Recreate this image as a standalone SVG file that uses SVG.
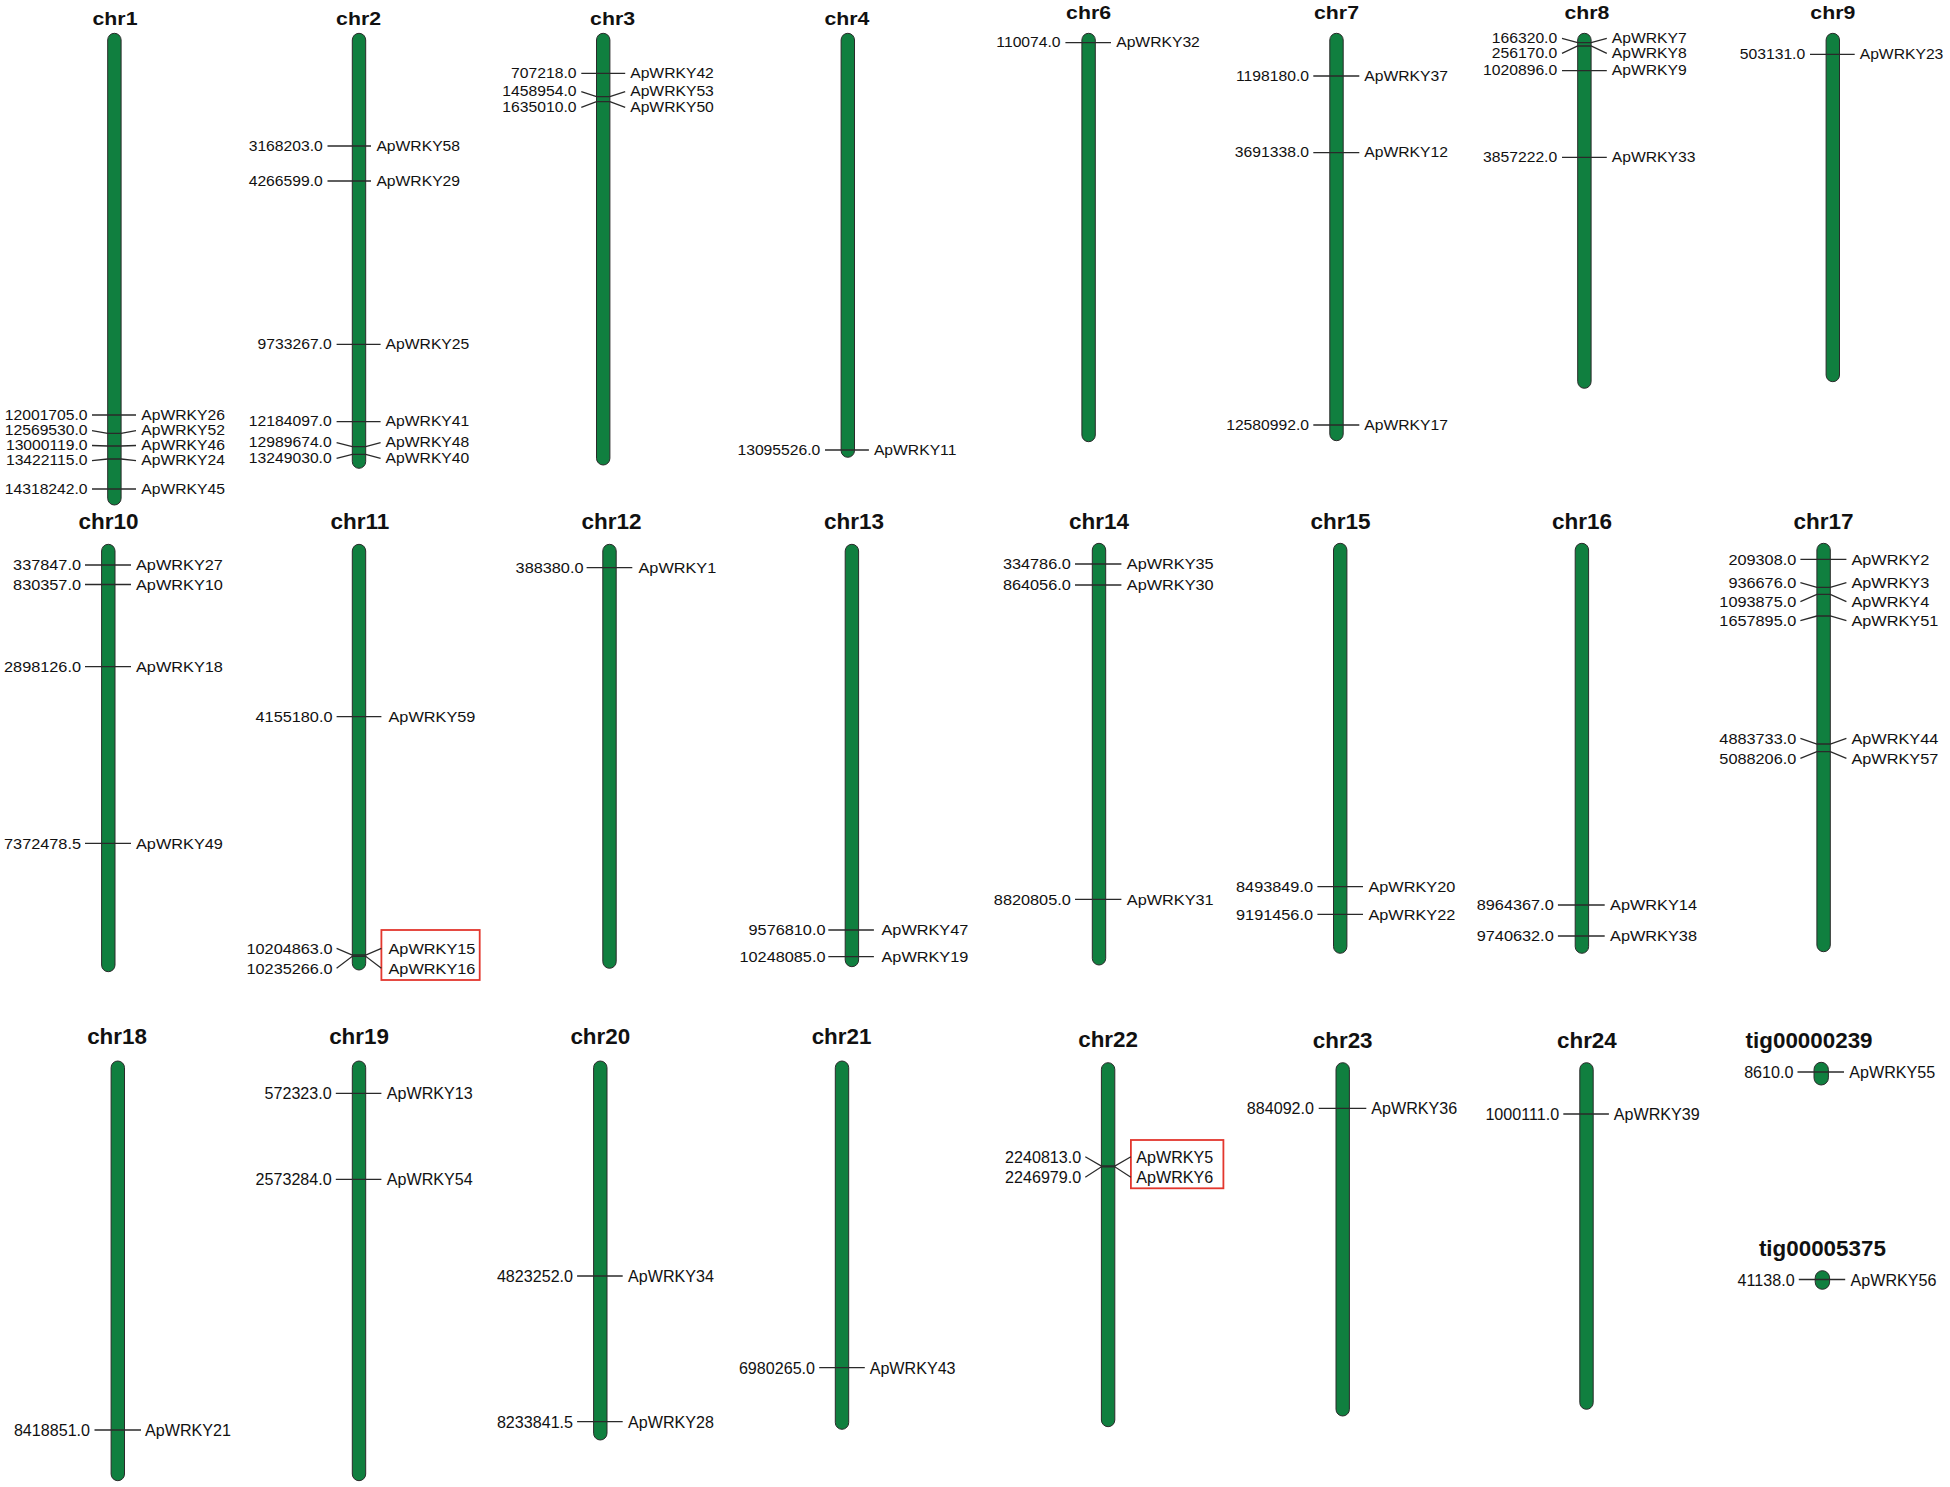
<svg xmlns="http://www.w3.org/2000/svg" width="1950" height="1487" viewBox="0 0 1950 1487">
<style>
text{font-family:"Liberation Sans",Arial,sans-serif;fill:#111;dominant-baseline:central;transform-box:fill-box;transform-origin:center}
.n{text-anchor:end}
.r1{font-size:15.7px;transform:scaleY(0.88)}
.r2{font-size:16.3px;transform:scaleY(0.95)}
.r3{font-size:16.1px}
.h1{font-size:21.3px;font-weight:bold;text-anchor:middle;transform:scaleY(0.9)}
.h2{font-size:22.5px;font-weight:bold;text-anchor:middle;transform:scaleY(0.95)}
.h3{font-size:22.4px;font-weight:bold;text-anchor:middle}
.bar{fill:#107f3f;stroke:#2a2a2a;stroke-width:1}
.c{fill:none;stroke:#2a2a2a;stroke-width:1.3}
.box{fill:none;stroke:#e3372e;stroke-width:1.8}
</style>
<rect width="1950" height="1487" fill="#fff"/>

<g id="chr1">
<text class="h1" x="115" y="18.3">chr1</text>
<rect class="bar" x="107.7" y="33.3" width="13.4" height="471.7" rx="6.7"/>
<text class="r1 n" x="87.6" y="415">12001705.0</text><text class="r1" x="141.3" y="415">ApWRKY26</text>
<text class="r1 n" x="87.6" y="430.7">12569530.0</text><text class="r1" x="141.3" y="430.7">ApWRKY52</text>
<text class="r1 n" x="87.6" y="445.5">13000119.0</text><text class="r1" x="141.3" y="445.5">ApWRKY46</text>
<text class="r1 n" x="87.6" y="460.7">13422115.0</text><text class="r1" x="141.3" y="460.7">ApWRKY24</text>
<text class="r1 n" x="87.6" y="489">14318242.0</text><text class="r1" x="141.3" y="489">ApWRKY45</text>
</g>
<g id="chr2">
<text class="h1" x="358.6" y="18.3">chr2</text>
<rect class="bar" x="352.3" y="33.3" width="13.4" height="435" rx="6.7"/>
<text class="r1 n" x="322.8" y="146">3168203.0</text><text class="r1" x="376.4" y="146">ApWRKY58</text>
<text class="r1 n" x="322.8" y="181">4266599.0</text><text class="r1" x="376.4" y="181">ApWRKY29</text>
<text class="r1 n" x="331.7" y="344.3">9733267.0</text><text class="r1" x="385.6" y="344.3">ApWRKY25</text>
<text class="r1 n" x="331.7" y="421.7">12184097.0</text><text class="r1" x="385.6" y="421.7">ApWRKY41</text>
<text class="r1 n" x="331.7" y="442.7">12989674.0</text><text class="r1" x="385.6" y="442.7">ApWRKY48</text>
<text class="r1 n" x="331.7" y="458.3">13249030.0</text><text class="r1" x="385.6" y="458.3">ApWRKY40</text>
</g>
<g id="chr3">
<text class="h1" x="612.6" y="18.3">chr3</text>
<rect class="bar" x="596.5" y="33.3" width="13.4" height="431.7" rx="6.7"/>
<text class="r1 n" x="576.5" y="73.3">707218.0</text><text class="r1" x="630.2" y="73.3">ApWRKY42</text>
<text class="r1 n" x="576.5" y="91.7">1458954.0</text><text class="r1" x="630.2" y="91.7">ApWRKY53</text>
<text class="r1 n" x="576.5" y="107.3">1635010.0</text><text class="r1" x="630.2" y="107.3">ApWRKY50</text>
</g>
<g id="chr4">
<text class="h1" x="846.9" y="18.3">chr4</text>
<rect class="bar" x="841.1" y="33.3" width="13.4" height="424" rx="6.7"/>
<text class="r1 n" x="820.3" y="450">13095526.0</text><text class="r1" x="873.9" y="450">ApWRKY11</text>
</g>
<g id="chr6">
<text class="h1" x="1088.6" y="12.7">chr6</text>
<rect class="bar" x="1081.9" y="33.3" width="13.4" height="408.4" rx="6.7"/>
<text class="r1 n" x="1060.6" y="42.7">110074.0</text><text class="r1" x="1116.2" y="42.7">ApWRKY32</text>
</g>
<g id="chr7">
<text class="h1" x="1336.5" y="12.7">chr7</text>
<rect class="bar" x="1329.8" y="33.3" width="13.4" height="407.4" rx="6.7"/>
<text class="r1 n" x="1309" y="76">1198180.0</text><text class="r1" x="1364.3" y="76">ApWRKY37</text>
<text class="r1 n" x="1309" y="152.7">3691338.0</text><text class="r1" x="1364.3" y="152.7">ApWRKY12</text>
<text class="r1 n" x="1309" y="425">12580992.0</text><text class="r1" x="1364.3" y="425">ApWRKY17</text>
</g>
<g id="chr8">
<text class="h1" x="1586.9" y="12.7">chr8</text>
<rect class="bar" x="1577.7" y="33.3" width="13.4" height="355" rx="6.7"/>
<text class="r1 n" x="1557.2" y="38.3">166320.0</text><text class="r1" x="1611.8" y="38.3">ApWRKY7</text>
<text class="r1 n" x="1557.2" y="53.3">256170.0</text><text class="r1" x="1611.8" y="53.3">ApWRKY8</text>
<text class="r1 n" x="1557.2" y="70.7">1020896.0</text><text class="r1" x="1611.8" y="70.7">ApWRKY9</text>
<text class="r1 n" x="1557.2" y="157.3">3857222.0</text><text class="r1" x="1611.8" y="157.3">ApWRKY33</text>
</g>
<g id="chr9">
<text class="h1" x="1832.8" y="12.7">chr9</text>
<rect class="bar" x="1826.1" y="33.3" width="13.4" height="348.4" rx="6.7"/>
<text class="r1 n" x="1805.2" y="54.3">503131.0</text><text class="r1" x="1859.7" y="54.3">ApWRKY23</text>
</g>

<g id="chr10">
<text class="h2" x="108.6" y="521.7">chr10</text>
<rect class="bar" x="101.6" y="544.3" width="13.4" height="427.4" rx="6.7"/>
<text class="r2 n" x="81" y="565">337847.0</text><text class="r2" x="136" y="565">ApWRKY27</text>
<text class="r2 n" x="81" y="584.5">830357.0</text><text class="r2" x="136" y="584.5">ApWRKY10</text>
<text class="r2 n" x="81" y="666.7">2898126.0</text><text class="r2" x="136" y="666.7">ApWRKY18</text>
<text class="r2 n" x="81" y="843.3">7372478.5</text><text class="r2" x="136" y="843.3">ApWRKY49</text>
</g>
<g id="chr11">
<text class="h2" x="359.9" y="521.7">chr11</text>
<rect class="bar" x="352.3" y="544.3" width="13.4" height="425.7" rx="6.7"/>
<text class="r2 n" x="332.5" y="716.7">4155180.0</text><text class="r2" x="388.5" y="716.7">ApWRKY59</text>
<text class="r2 n" x="332.5" y="948.3">10204863.0</text><text class="r2" x="388.5" y="948.3">ApWRKY15</text>
<text class="r2 n" x="332.5" y="968.3">10235266.0</text><text class="r2" x="388.5" y="968.3">ApWRKY16</text>
<rect class="box" x="381.4" y="930" width="98.3" height="50"/>
</g>
<g id="chr12">
<text class="h2" x="611.5" y="521.7">chr12</text>
<rect class="bar" x="602.8" y="544.3" width="13.4" height="424" rx="6.7"/>
<text class="r2 n" x="583.5" y="567.7">388380.0</text><text class="r2" x="638.5" y="567.7">ApWRKY1</text>
</g>
<g id="chr13">
<text class="h2" x="854" y="521.7">chr13</text>
<rect class="bar" x="845.2" y="544.3" width="13.4" height="422.4" rx="6.7"/>
<text class="r2 n" x="825.5" y="930">9576810.0</text><text class="r2" x="881.5" y="930">ApWRKY47</text>
<text class="r2 n" x="825.5" y="956.7">10248085.0</text><text class="r2" x="881.5" y="956.7">ApWRKY19</text>
</g>
<g id="chr14">
<text class="h2" x="1099" y="521.7">chr14</text>
<rect class="bar" x="1092.3" y="543.3" width="13.4" height="421.7" rx="6.7"/>
<text class="r2 n" x="1070.8" y="564">334786.0</text><text class="r2" x="1126.8" y="564">ApWRKY35</text>
<text class="r2 n" x="1070.8" y="585">864056.0</text><text class="r2" x="1126.8" y="585">ApWRKY30</text>
<text class="r2 n" x="1070.8" y="899.3">8820805.0</text><text class="r2" x="1126.8" y="899.3">ApWRKY31</text>
</g>
<g id="chr15">
<text class="h2" x="1340.6" y="521.7">chr15</text>
<rect class="bar" x="1333.5" y="543.3" width="13.4" height="410" rx="6.7"/>
<text class="r2 n" x="1313" y="886.7">8493849.0</text><text class="r2" x="1368.4" y="886.7">ApWRKY20</text>
<text class="r2 n" x="1313" y="914.3">9191456.0</text><text class="r2" x="1368.4" y="914.3">ApWRKY22</text>
</g>
<g id="chr16">
<text class="h2" x="1581.9" y="521.7">chr16</text>
<rect class="bar" x="1575.2" y="543.3" width="13.4" height="410" rx="6.7"/>
<text class="r2 n" x="1553.7" y="905">8964367.0</text><text class="r2" x="1610.1" y="905">ApWRKY14</text>
<text class="r2 n" x="1553.7" y="936">9740632.0</text><text class="r2" x="1610.1" y="936">ApWRKY38</text>
</g>
<g id="chr17">
<text class="h2" x="1823.6" y="521.7">chr17</text>
<rect class="bar" x="1816.9" y="543.3" width="13.4" height="408.4" rx="6.7"/>
<text class="r2 n" x="1796.3" y="559.3">209308.0</text><text class="r2" x="1851.4" y="559.3">ApWRKY2</text>
<text class="r2 n" x="1796.3" y="582.7">936676.0</text><text class="r2" x="1851.4" y="582.7">ApWRKY3</text>
<text class="r2 n" x="1796.3" y="601.7">1093875.0</text><text class="r2" x="1851.4" y="601.7">ApWRKY4</text>
<text class="r2 n" x="1796.3" y="620.7">1657895.0</text><text class="r2" x="1851.4" y="620.7">ApWRKY51</text>
<text class="r2 n" x="1796.3" y="738.3">4883733.0</text><text class="r2" x="1851.4" y="738.3">ApWRKY44</text>
<text class="r2 n" x="1796.3" y="758.3">5088206.0</text><text class="r2" x="1851.4" y="758.3">ApWRKY57</text>
</g>

<g id="chr18">
<text class="h3" x="117" y="1036">chr18</text>
<rect class="bar" x="111.1" y="1061" width="13.4" height="419.7" rx="6.7"/>
<text class="r3 n" x="90" y="1430">8418851.0</text><text class="r3" x="145.1" y="1430">ApWRKY21</text>
</g>
<g id="chr19">
<text class="h3" x="359" y="1036">chr19</text>
<rect class="bar" x="352.3" y="1061" width="13.4" height="419.7" rx="6.7"/>
<text class="r3 n" x="331.7" y="1093.3">572323.0</text><text class="r3" x="386.8" y="1093.3">ApWRKY13</text>
<text class="r3 n" x="331.7" y="1179.3">2573284.0</text><text class="r3" x="386.8" y="1179.3">ApWRKY54</text>
</g>
<g id="chr20">
<text class="h3" x="600.3" y="1036">chr20</text>
<rect class="bar" x="593.6" y="1061" width="13.4" height="379" rx="6.7"/>
<text class="r3 n" x="573" y="1276">4823252.0</text><text class="r3" x="628.1" y="1276">ApWRKY34</text>
<text class="r3 n" x="573" y="1421.7">8233841.5</text><text class="r3" x="628.1" y="1421.7">ApWRKY28</text>
</g>
<g id="chr21">
<text class="h3" x="841.5" y="1036">chr21</text>
<rect class="bar" x="835.3" y="1061" width="13.4" height="368.3" rx="6.7"/>
<text class="r3 n" x="815" y="1367.7">6980265.0</text><text class="r3" x="869.7" y="1367.7">ApWRKY43</text>
</g>
<g id="chr22">
<text class="h3" x="1108.1" y="1039.7">chr22</text>
<rect class="bar" x="1101.4" y="1062.7" width="13.4" height="364" rx="6.7"/>
<text class="r3 n" x="1081.2" y="1156.7">2240813.0</text><text class="r3" x="1136.3" y="1156.7">ApWRKY5</text>
<text class="r3 n" x="1081.2" y="1177.3">2246979.0</text><text class="r3" x="1136.3" y="1177.3">ApWRKY6</text>
<rect class="box" x="1130.9" y="1140" width="92.5" height="48.3"/>
</g>
<g id="chr23">
<text class="h3" x="1342.7" y="1040">chr23</text>
<rect class="bar" x="1336" y="1062.7" width="13.4" height="353.3" rx="6.7"/>
<text class="r3 n" x="1314" y="1108.3">884092.0</text><text class="r3" x="1371.3" y="1108.3">ApWRKY36</text>
</g>
<g id="chr24">
<text class="h3" x="1586.9" y="1040">chr24</text>
<rect class="bar" x="1579.8" y="1062.7" width="13.4" height="346.6" rx="6.7"/>
<text class="r3 n" x="1559.1" y="1114">1000111.0</text><text class="r3" x="1613.8" y="1114">ApWRKY39</text>
</g>
<g id="tig00000239">
<text class="h3" x="1809.1" y="1040">tig00000239</text>
<rect class="bar" x="1814" y="1062.3" width="14.4" height="22.7" rx="7.2"/>
<text class="r3 n" x="1793.4" y="1072">8610.0</text><text class="r3" x="1849.3" y="1072">ApWRKY55</text>
</g>
<g id="tig00005375">
<text class="h3" x="1822.4" y="1248.3">tig00005375</text>
<rect class="bar" x="1815.2" y="1270.7" width="14.4" height="18.6" rx="7.2"/>
<text class="r3 n" x="1794.6" y="1279.5">41138.0</text><text class="r3" x="1850.6" y="1279.5">ApWRKY56</text>
</g>

<g id="connectors" class="c">
<polyline points="92,415 107.7,415 121.1,415 136,415"/>
<polyline points="92,430.7 107.7,433.3 121.1,433.3 136,430.7"/>
<polyline points="92,445.5 107.7,446 121.1,446 136,445.5"/>
<polyline points="92,460.7 107.7,459 121.1,459 136,460.7"/>
<polyline points="92,489 136,489"/>
<polyline points="327.5,146 371,146"/>
<polyline points="327.5,181 371,181"/>
<polyline points="336.6,344.3 380.6,344.3"/>
<polyline points="336.6,421.7 380.6,421.7"/>
<polyline points="336.6,442.7 352.3,446.7 365.7,446.7 380.6,442.7"/>
<polyline points="336.6,458.3 352.3,454.3 365.7,454.3 380.6,458.3"/>
<polyline points="581.3,73.3 625.2,73.3"/>
<polyline points="581.3,91.7 596.5,96.7 609.9,96.7 625.2,91.7"/>
<polyline points="581.3,107.3 596.5,101.7 609.9,101.7 625.2,107.3"/>
<polyline points="825,450 868.9,450"/>
<polyline points="1065.4,42.7 1111,42.7"/>
<polyline points="1313.3,76 1359.3,76"/>
<polyline points="1313.3,152.7 1359.3,152.7"/>
<polyline points="1313.3,425 1359.3,425"/>
<polyline points="1562,38.3 1577.7,42.7 1591.1,42.7 1606.8,38.3"/>
<polyline points="1562,53.3 1577.7,46 1591.1,46 1606.8,53.3"/>
<polyline points="1562,70.7 1606.8,70.7"/>
<polyline points="1562,157.3 1606.8,157.3"/>
<polyline points="1810,54.3 1854.7,54.3"/>
<polyline points="85,565 131,565"/>
<polyline points="85,584.5 131,584.5"/>
<polyline points="85,666.7 131,666.7"/>
<polyline points="85,843.3 131,843.3"/>
<polyline points="336.6,716.7 381.4,716.7"/>
<polyline points="336.6,948.3 352.3,955 365.7,955 381.4,948.3"/>
<polyline points="336.6,968.3 352.3,956.3 365.7,956.3 381.4,968.3"/>
<polyline points="586.6,567.7 632.3,567.7"/>
<polyline points="828.3,930 873.9,930"/>
<polyline points="828.3,956.7 873.9,956.7"/>
<polyline points="1075,564 1121.4,564"/>
<polyline points="1075,585 1121.4,585"/>
<polyline points="1075,899.3 1121.4,899.3"/>
<polyline points="1317.4,886.7 1363,886.7"/>
<polyline points="1317.4,914.3 1363,914.3"/>
<polyline points="1557.9,905 1604.7,905"/>
<polyline points="1557.9,936 1604.7,936"/>
<polyline points="1800.4,559.3 1846.4,559.3"/>
<polyline points="1800.4,582.7 1816.9,587.3 1830.3,587.3 1846.4,582.7"/>
<polyline points="1800.4,601.7 1816.9,594.3 1830.3,594.3 1846.4,601.7"/>
<polyline points="1800.4,620.7 1816.9,616 1830.3,616 1846.4,620.7"/>
<polyline points="1800.4,738.3 1816.9,744 1830.3,744 1846.4,738.3"/>
<polyline points="1800.4,758.3 1816.9,751.7 1830.3,751.7 1846.4,758.3"/>
<polyline points="94.5,1430 141,1430"/>
<polyline points="335.8,1093.3 381.4,1093.3"/>
<polyline points="335.8,1179.3 381.4,1179.3"/>
<polyline points="577.1,1276 622.7,1276"/>
<polyline points="577.1,1421.7 622.7,1421.7"/>
<polyline points="819.2,1367.7 864.8,1367.7"/>
<polyline points="1085.3,1156.7 1101.4,1166 1114.8,1166 1130.9,1156.7"/>
<polyline points="1085.3,1177.3 1101.4,1166.8 1114.8,1166.8 1130.9,1177.3"/>
<polyline points="1318.7,1108.3 1366.3,1108.3"/>
<polyline points="1563.3,1114 1608.9,1114"/>
<polyline points="1797.5,1072 1844,1072"/>
<polyline points="1798.8,1279.5 1845.2,1279.5"/>
</g>
</svg>
